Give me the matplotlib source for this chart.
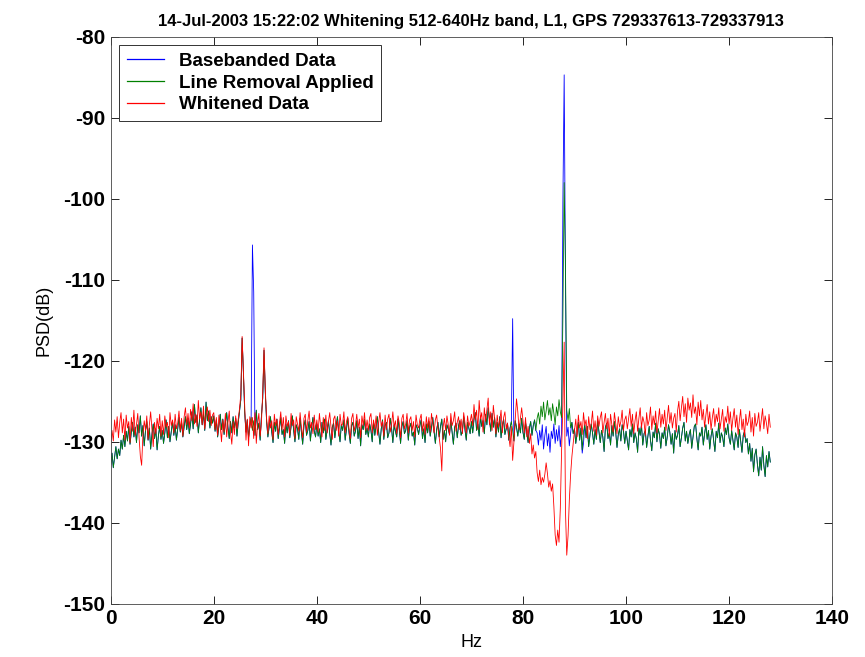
import numpy as np
import matplotlib
matplotlib.use("Agg")
import matplotlib.pyplot as plt

plt.rcParams['font.family'] = ['Liberation Sans', 'DejaVu Sans']
plt.rcParams['axes.unicode_minus'] = False

# --- Data: PSD in dB, one value every 0.25 Hz from 0 to 128 Hz ---
# line removal applied (green)
green_db = [
    # 0 - 9.75 Hz
    -132.8, -131.4, -133.2, -131.9, -130.6, -132.1, -130.9, -131.7, -129.8, -130.9,
    -129.2, -130.6, -128.7, -129.9, -128.1, -130.3, -128.8, -127.6, -129.4, -128.2,
    -130.1, -127.9, -128.9, -126.8, -129.3, -128.0, -130.5, -128.6, -127.5, -129.8,
    -128.3, -130.9, -129.1, -127.8, -129.6, -128.4, -131.0, -129.3, -128.1, -129.7,
    # 10 - 19.75 Hz
    -128.6, -130.2, -128.9, -127.3, -129.5, -128.1, -130.0, -128.7, -127.5, -129.2,
    -127.9, -129.8, -128.4, -127.0, -128.8, -127.6, -129.4, -128.2, -126.9, -128.5,
    -127.1, -129.0, -127.8, -126.3, -128.4, -125.4, -127.6, -126.7, -128.9, -127.2,
    -125.8, -127.9, -126.5, -128.6, -125.1, -127.4, -126.2, -128.3, -126.9, -127.7,
    # 20 - 29.75 Hz
    -126.8, -128.7, -127.3, -129.4, -128.0, -126.6, -128.5, -127.2, -129.1, -127.8,
    -126.4, -128.2, -129.6, -127.5, -128.9, -126.9, -128.3, -127.1, -129.3, -127.6,
    -126.2, -124.8, -117.2, -121.5, -126.4, -128.8, -127.3, -129.5, -128.0, -127.0,
    -128.6, -127.4, -129.2, -126.1, -128.5, -127.7, -129.8, -126.8, -124.6, -118.7,
    # 30 - 39.75 Hz
    -123.9, -127.5, -129.4, -128.1, -126.9, -128.8, -130.1, -127.6, -128.7, -127.2,
    -129.6, -128.3, -127.0, -129.1, -128.5, -130.2, -127.8, -128.9, -127.4, -129.5,
    -128.2, -126.8, -128.6, -130.0, -127.9, -128.4, -129.7, -127.1, -128.8, -130.3,
    -128.0, -127.3, -129.2, -128.6, -127.5, -129.9, -128.1, -127.0, -128.7, -129.4,
    # 40 - 49.75 Hz
    -127.8, -129.3, -128.4, -130.1, -127.6, -128.9, -127.2, -129.7, -128.5, -127.4,
    -129.0, -130.4, -128.2, -127.7, -129.5, -128.1, -126.9, -128.8, -130.0, -127.9,
    -128.6, -127.3, -129.8, -128.4, -127.1, -128.9, -130.2, -128.0, -127.6, -129.3,
    -128.7, -127.4, -129.6, -128.2, -130.5, -127.9, -128.5, -127.2, -129.1, -128.3,
    # 50 - 59.75 Hz
    -129.4, -127.8, -128.6, -130.0, -127.5, -129.2, -128.1, -126.9, -128.8, -130.3,
    -128.4, -127.3, -129.7, -128.0, -127.6, -129.5, -128.9, -127.1, -128.3, -130.1,
    -127.9, -128.7, -129.4, -127.2, -128.5, -130.2, -128.1, -127.5, -129.0, -128.6,
    -127.4, -129.8, -128.2, -127.7, -129.3, -128.8, -130.4, -127.9, -128.3, -129.1,
    # 60 - 69.75 Hz
    -128.0, -127.3, -129.6, -128.4, -130.1, -127.8, -128.9, -127.5, -129.3, -128.2,
    -127.0, -128.7, -130.2, -128.5, -127.6, -129.4, -128.1, -127.2, -129.7, -128.6,
    -130.0, -127.9, -128.4, -129.1, -127.3, -128.8, -130.3, -128.2, -127.7, -129.5,
    -128.0, -127.4, -129.2, -128.7, -126.9, -128.5, -129.8, -127.6, -128.3, -129.0,
    # 70 - 79.75 Hz
    -127.5, -128.9, -127.2, -126.4, -128.6, -127.8, -129.3, -126.9, -128.1, -127.4,
    -129.0, -126.6, -127.9, -125.8, -127.3, -128.7, -126.5, -128.2, -127.0, -129.4,
    -127.6, -128.8, -126.9, -129.5, -128.0, -127.2, -129.1, -128.4, -127.7, -129.8,
    -128.3, -127.5, -128.6, -129.9, -127.4, -128.2, -129.3, -127.8, -128.9, -127.1,
    # 80 - 89.75 Hz
    -128.8, -129.7, -127.6, -128.9, -130.1, -128.3, -127.5, -129.2, -128.0, -127.3,
    -128.6, -127.1, -126.4, -127.8, -125.6, -126.9, -125.1, -127.3, -126.2, -124.9,
    -126.7, -125.8, -127.4, -125.3, -126.5, -127.9, -125.7, -126.8, -124.8, -126.3,
    -127.0, -114.5, -98.0, -108.0, -126.1, -127.4, -125.9, -128.3, -127.6, -129.0,
    # 90 - 99.75 Hz
    -128.4, -130.2, -128.9, -127.6, -129.8, -128.3, -131.0, -128.7, -127.9, -129.5,
    -128.1, -130.6, -129.2, -127.8, -128.9, -130.3, -128.5, -129.7, -127.4, -128.8,
    -130.1, -128.6, -129.4, -131.2, -128.2, -127.7, -129.6, -128.9, -130.4, -128.0,
    -129.3, -127.5, -128.8, -130.7, -129.1, -128.4, -129.9, -127.9, -128.6, -130.2,
    # 100 - 109.75 Hz
    -128.7, -129.9, -131.0, -128.5, -129.4, -127.8, -130.1, -128.9, -129.6, -131.3,
    -128.3, -129.2, -127.9, -130.4, -129.0, -128.6, -130.7, -129.3, -128.1, -129.8,
    -131.1, -128.8, -129.5, -127.7, -130.0, -128.4, -129.1, -130.8, -128.9, -129.6,
    -128.2, -130.5, -129.4, -127.9, -128.8, -130.3, -129.0, -131.4, -128.6, -129.7,
    # 110 - 119.75 Hz
    -129.2, -128.0, -130.6, -129.5, -128.3, -127.6, -129.9, -128.7, -130.2, -129.1,
    -128.5, -130.8, -129.4, -128.1, -127.8, -129.6, -131.0, -128.9, -129.3, -128.2,
    -130.4, -129.0, -127.9, -129.7, -128.6, -130.9, -129.3, -128.4, -129.8, -131.2,
    -128.7, -129.5, -127.7, -130.1, -128.9, -129.4, -130.6, -128.3, -129.1, -127.8,
    # 120 - 128 Hz
    -129.5, -130.3, -128.6, -129.8, -131.0, -128.9, -129.4, -130.7, -128.5, -129.9,
    -131.3, -129.2, -128.7, -130.1, -129.6, -131.5, -130.2, -132.4, -130.8, -133.7,
    -131.6, -130.9, -132.8, -134.2, -131.9, -133.5, -130.6, -132.9, -134.3, -131.7,
    -133.1, -131.2, -132.5,
]

# whitened data (red)
red_db = [
    # 0 - 9.75 Hz
    -130.4, -128.6, -129.9, -127.3, -128.8, -126.9, -129.5, -127.6, -126.4, -128.9,
    -127.2, -129.8, -126.7, -128.3, -127.5, -130.1, -127.0, -128.7, -126.1, -129.2,
    -127.8, -126.5, -129.4, -131.8, -132.9, -129.1, -127.4, -128.6, -126.8, -129.7,
    -127.9, -126.3, -128.5, -130.6, -127.6, -129.0, -127.1, -128.4, -126.6, -129.3,
    # 10 - 19.75 Hz
    -127.4, -129.1, -126.8, -128.2, -127.6, -129.5, -126.4, -128.0, -127.3, -128.9,
    -126.6, -128.4, -127.7, -126.2, -128.6, -127.1, -129.3, -126.9, -125.8, -127.9,
    -126.5, -128.3, -126.0, -127.4, -125.3, -127.8, -126.6, -128.1, -124.9, -127.2,
    -126.3, -127.9, -125.6, -128.4, -126.8, -125.7, -127.5, -126.1, -128.0, -126.7,
    # 20 - 29.75 Hz
    -126.4, -128.5, -127.0, -129.2, -126.7, -128.1, -130.0, -127.3, -128.8, -126.5,
    -129.4, -127.6, -126.2, -128.9, -130.3, -127.5, -129.1, -126.8, -128.4, -127.1,
    -125.9, -124.1, -117.0, -121.2, -125.6, -129.8, -127.2, -130.5, -126.9, -128.3,
    -127.0, -129.6, -126.4, -130.2, -127.8, -126.5, -129.3, -127.6, -123.9, -118.4,
    # 30 - 39.75 Hz
    -123.5, -127.1, -129.0, -126.8, -128.3, -127.4, -129.7, -126.6, -128.0, -127.2,
    -129.1, -127.7, -126.3, -128.5, -127.0, -129.4, -126.8, -128.1, -127.5, -129.2,
    -126.5, -128.0, -127.3, -129.6, -126.9, -127.8, -128.7, -126.4, -128.2, -129.5,
    -127.1, -126.6, -128.8, -127.4, -126.2, -128.3, -127.6, -129.0, -126.7, -128.5,
    # 40 - 49.75 Hz
    -127.3, -128.8, -126.5, -128.1, -129.4, -127.0, -128.6, -126.7, -128.9, -127.5,
    -126.4, -128.2, -129.7, -127.2, -126.8, -128.6, -127.4, -129.3, -126.6, -128.0,
    -127.8, -126.3, -128.9, -127.5, -126.9, -128.4, -129.6, -127.1, -126.5, -128.7,
    -127.9, -126.6, -128.3, -127.2, -129.5, -126.8, -128.0, -126.4, -128.6, -127.3,
    # 50 - 59.75 Hz
    -128.6, -127.0, -126.5, -128.9, -127.3, -128.4, -126.8, -129.2, -127.6, -126.4,
    -128.1, -127.5, -129.3, -126.7, -128.5, -127.2, -126.6, -128.8, -127.9, -126.3,
    -128.2, -127.4, -129.0, -126.8, -127.7, -129.5, -127.1, -126.6, -128.4, -127.8,
    -126.5, -128.9, -127.3, -126.9, -128.6, -127.5, -129.4, -126.7, -127.9, -128.3,
    # 60 - 69.75 Hz
    -127.2, -126.6, -128.7, -127.5, -129.1, -126.9, -128.3, -127.0, -128.8, -126.5,
    -127.8, -128.9, -127.3, -126.7, -128.4, -129.5, -130.8, -133.6, -128.2, -127.1,
    -128.6, -126.8, -127.9, -129.2, -126.5, -128.0, -127.4, -126.3, -128.7, -127.6,
    -126.9, -128.5, -127.2, -129.0, -126.4, -127.7, -128.9, -126.8, -128.1, -127.5,
    # 70 - 79.75 Hz
    -126.6, -128.0, -125.4, -127.3, -126.1, -128.5, -124.9, -127.2, -126.4, -128.8,
    -125.8, -127.5, -126.0, -124.6, -127.9, -126.3, -128.6, -125.5, -127.1, -129.0,
    -126.7, -128.2, -127.4, -126.1, -128.9, -127.0, -126.3, -128.4, -127.7, -129.3,
    -130.6, -128.1, -132.3, -130.0, -127.2, -124.7, -126.3, -128.5, -127.1, -125.8,
    # 80 - 89.75 Hz
    -127.4, -128.9, -127.0, -129.4, -128.1, -130.2, -129.0, -131.5, -130.4, -132.0,
    -131.2, -133.8, -134.9, -133.5, -135.3, -134.4, -135.0, -134.0, -132.6, -133.9,
    -135.6, -134.8, -136.1, -135.2, -138.0, -141.5, -142.8, -140.9, -142.4, -138.2,
    -131.0, -125.5, -117.7, -138.5, -144.0, -141.6, -137.2, -134.0, -131.8, -130.2,
    # 90 - 99.75 Hz
    -128.6, -127.2, -129.4, -126.7, -128.3, -127.5, -129.1, -126.4, -128.0, -127.3,
    -129.6, -126.9, -128.5, -127.8, -126.2, -128.7, -127.4, -129.2, -126.8, -128.1,
    -127.0, -126.3, -128.9, -127.6, -126.5, -128.4, -127.1, -129.3, -126.6, -127.9,
    -128.8, -126.4, -127.7, -129.0, -126.9, -128.2, -127.5, -126.1, -128.6, -127.3,
    # 100 - 109.75 Hz
    -126.8, -128.4, -127.2, -125.9, -128.1, -126.6, -129.0, -127.4, -126.3, -128.7,
    -127.1, -125.8, -128.3, -126.9, -127.6, -129.2, -126.4, -128.0, -127.3, -125.7,
    -128.5, -126.8, -127.9, -126.2, -128.9, -127.4, -125.9, -128.2, -126.6, -127.8,
    -126.1, -128.6, -127.0, -125.5, -127.7, -126.4, -128.3, -127.1, -126.5, -128.8,
    # 110 - 119.75 Hz
    -126.2, -125.0, -127.4, -125.8, -124.4, -126.9, -125.3, -127.6, -124.6, -126.1,
    -125.2, -127.0, -124.2, -126.5, -125.7, -127.9, -125.1, -126.8, -124.9, -127.3,
    -126.0, -128.2, -126.7, -125.4, -127.8, -126.3, -128.5, -127.0, -125.9, -128.1,
    -126.6, -127.5, -125.8, -128.4, -127.2, -126.0, -128.7, -126.9, -127.6, -125.6,
    # 120 - 128 Hz
    -127.8, -126.3, -128.6, -127.1, -125.9, -128.2, -126.7, -129.1, -127.4, -126.0,
    -128.5, -127.2, -129.4, -126.6, -128.0, -127.5, -126.2, -128.8, -127.0, -129.3,
    -126.5, -128.1, -127.6, -126.4, -128.7, -127.3, -125.9, -128.4, -126.8, -127.7,
    -129.0, -126.6, -128.2,
]

# basebanded data (blue): same as the green trace except where lines were removed
blue_hz = [27.5, 27.75, 78.0,
           82.75, 83.0, 83.25, 83.5, 83.75, 84.0, 84.25, 84.5, 84.75, 85.0,
           85.25, 85.5, 85.75, 86.0, 86.25, 86.5, 86.75, 87.0, 87.25, 87.5,
           87.75, 88.0, 88.25, 88.5, 88.75, 89.0, 89.25, 91.5, 91.75]
blue_db = [-105.7, -111.5, -114.8,
           -128.9, -130.4, -128.6, -129.8, -127.9, -130.9, -129.2, -128.1, -130.5, -129.0,
           -131.3, -128.7, -129.6, -127.8, -130.2, -128.5, -129.9, -128.0, -130.6, -128.8,
           -100.5, -84.7, -110.0, -129.3, -128.2, -130.5, -128.9, -131.4, -130.2]

labels = ['Basebanded Data', 'Line Removal Applied', 'Whitened Data']
title = '14-Jul-2003 15:22:02 Whitening 512-640Hz band, L1, GPS 729337613-729337913'

freq = np.linspace(0, 128, len(green_db))
green = np.array(green_db)
red = np.array(red_db)
blue = green.copy()
blue[np.searchsorted(freq, blue_hz)] = blue_db

# --- Plot ---
fig = plt.figure(figsize=(8.65, 6.57), dpi=100)
ax = fig.add_axes([0.128, 0.081, 0.834, 0.863])

ax.plot(freq, blue, color='#0000ff', lw=0.6, label=labels[0])
ax.plot(freq, green, color='#008000', lw=0.6, label=labels[1])
ax.plot(freq, red, color='#ff0000', lw=0.6, label=labels[2])

ax.set_xlim(0, 140)
ax.set_ylim(-150, -80)
ax.set_xticks(np.arange(0, 141, 20))
ax.set_yticks(np.arange(-150, -79, 10))
ax.tick_params(direction='in', top=True, right=True, length=6, width=0.6,
               labelsize=15, pad=4)
for lab in ax.get_xticklabels() + ax.get_yticklabels():
    lab.set_fontweight('bold')
for sp in ax.spines.values():
    sp.set_linewidth(0.6)
    sp.set_color('#444444')

ax.set_xlabel('Hz', fontsize=13, labelpad=4)
ax.set_ylabel('PSD(dB)', fontsize=13, labelpad=8)
ax.set_title(title, fontsize=12, fontweight='bold',
             family=['Liberation Sans Narrow', 'Liberation Sans'], pad=8)

leg = ax.legend(loc='upper left', fontsize=13.5, handlelength=2.0,
                handletextpad=0.8, borderaxespad=0.45, labelspacing=0.25,
                fancybox=False, framealpha=1, edgecolor='#333333')
leg.get_frame().set_linewidth(0.7)
for t in leg.get_texts():
    t.set_fontweight('bold')
for h in leg.get_lines():
    h.set_linewidth(0.9)

fig.savefig('out.png', dpi=100)
